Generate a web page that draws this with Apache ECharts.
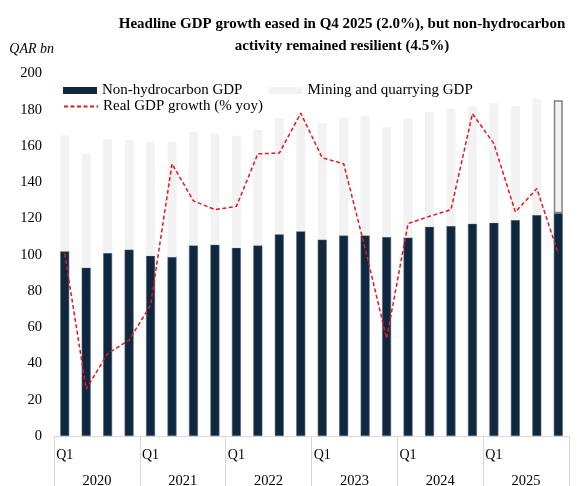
<!DOCTYPE html>
<html>
<head>
<meta charset="utf-8">
<script src="https://cdn.jsdelivr.net/npm/echarts@6/dist/echarts.min.js"></script>
<style>html,body{margin:0;padding:0;background:#fff}#c{width:581px;height:486px}</style>
</head>
<body>
<div id="c"></div>
<script>
const quarters = ['Q1','Q2','Q3','Q4','Q1','Q2','Q3','Q4','Q1','Q2','Q3','Q4','Q1','Q2','Q3','Q4','Q1','Q2','Q3','Q4','Q1','Q2','Q3','Q4'];
const years = ['2020','2021','2022','2023','2024','2025'];
const yTicks = [0, 20, 40, 60, 80, 100, 120, 140, 160, 180, 200];
const nonHydrocarbon = [101.9, 92.9, 101, 102.9, 99.5, 98.8, 105.2, 105.6, 103.9, 105.2, 111.3, 113, 108.4, 110.7, 110.7, 109.8, 109.5, 115.5, 115.9, 117.2, 117.7, 119.2, 121.9, 122.9];
const mining = [63.9, 62.8, 62.8, 60.6, 62.9, 63.4, 62.7, 61.3, 61.8, 63.6, 64.1, 65, 64.2, 65.1, 66, 60.6, 65.5, 63.2, 64.6, 64.6, 65.9, 62.8, 63.9, 62.4];
const growthLine = [100.6, 25.9, 45.5, 52.9, 72.2, 150.2, 129.7, 124.9, 126.7, 155.7, 156.1, 178.1, 153.5, 150.2, 103.5, 53.8, 117.2, 121.2, 124.9, 177.8, 161.3, 123.6, 136.5, 100.6];

const serif = '"Liberation Serif", "Times New Roman", serif';
const NAVY = '#0f2840', GRAY = '#f2f2f2', RED = '#e0191f';

const miningData = mining.map((v, i) => i === mining.length - 1
  ? { value: v, itemStyle: { color: GRAY, borderColor: '#808080', borderWidth: 1.5 } }
  : v);

const chart = echarts.init(document.getElementById('c'), null, { renderer: 'canvas' });
chart.setOption({
  animation: false,
  backgroundColor: '#fff',
  title: {
    text: 'Headline GDP growth eased in Q4 2025 (2.0%), but non-hydrocarbon\nactivity remained resilient (4.5%)',
    left: 337, top: 8, textAlign: 'center',
    textStyle: { fontFamily: serif, fontWeight: 'bold', fontSize: 15, color: '#000', lineHeight: 22 }
  },
  legend: [
    {
      data: ['Non-hydrocarbon GDP', 'Mining and quarrying GDP'],
      left: 58, top: 78, itemWidth: 34, itemHeight: 7, itemGap: 26, icon: 'rect',
      itemStyle: { borderWidth: 0 },
      textStyle: { fontFamily: serif, fontSize: 15, color: '#000' }
    },
    {
      data: ['Real GDP growth (% yoy)'],
      left: 58, top: 94, itemWidth: 34, itemHeight: 7,
      itemStyle: { opacity: 0 },
      textStyle: { fontFamily: serif, fontSize: 15, color: '#000' }
    }
  ],
  grid: { left: 54, right: 12, top: 73.5, bottom: 50, containLabel: false, outerBoundsMode: 'none' },
  xAxis: [
    {
      type: 'category', data: quarters, position: 'bottom',
      axisLine: { lineStyle: { color: '#d9d9d9', width: 1 } },
      axisTick: { show: false },
      axisLabel: {
        interval: 0, margin: 12, fontFamily: serif, fontSize: 14, color: '#000',
        formatter: (v, i) => (i % 4 === 0 ? v : '')
      }
    },
    {
      type: 'category', data: years, position: 'bottom', offset: 0,
      axisLine: { show: false },
      axisTick: { show: true, length: 52, lineStyle: { color: '#d9d9d9', width: 1 } },
      axisLabel: { margin: 38, fontFamily: serif, fontSize: 14.5, color: '#000' }
    }
  ],
  yAxis: [
    {
      type: 'value', min: yTicks[0], max: yTicks[yTicks.length - 1], interval: 20,
      name: 'QAR bn', nameLocation: 'end', nameGap: 17,
      nameTextStyle: { fontFamily: serif, fontStyle: 'italic', fontSize: 14, color: '#000', align: 'right' },
      axisLine: { show: false }, axisTick: { show: false }, splitLine: { show: false },
      axisLabel: { margin: 12, fontFamily: serif, fontSize: 14.5, color: '#000' }
    },
    {
      type: 'value', min: yTicks[0], max: yTicks[yTicks.length - 1], show: false
    }
  ],
  series: [
    {
      name: 'Non-hydrocarbon GDP', type: 'bar', stack: 'gdp', data: nonHydrocarbon,
      barWidth: '42%', itemStyle: { color: NAVY, borderColor: '#52667d', borderWidth: 0.6 }
    },
    {
      name: 'Mining and quarrying GDP', type: 'bar', stack: 'gdp', data: miningData,
      barWidth: '42%', itemStyle: { color: GRAY }
    },
    {
      name: 'Real GDP growth (% yoy)', type: 'line', yAxisIndex: 1, data: growthLine,
      symbol: 'none', showSymbol: false, z: 5,
      lineStyle: { color: RED, width: 1.5, type: [4, 2.5] },
      itemStyle: { color: RED }
    }
  ]
});
</script>
</body>
</html>
